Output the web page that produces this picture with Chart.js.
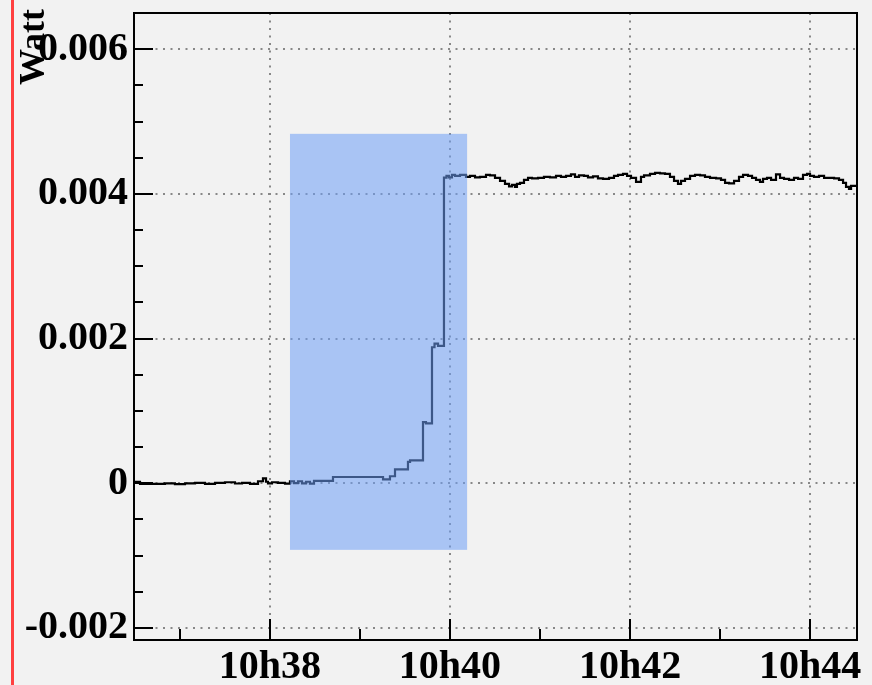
<!DOCTYPE html>
<html><head><meta charset="utf-8">
<script src="https://cdn.jsdelivr.net/npm/chart.js@4/dist/chart.umd.min.js"></script>
<style>html,body{margin:0;padding:0;background:#f2f2f2;overflow:hidden}canvas{display:block}</style>
</head><body><canvas id="c" width="872" height="685"></canvas>
<script>
// time in minutes after 10h00
const timeMinutes = [
  36.478, 36.556, 36.667, 36.833, 36.944, 37.056, 37.167, 37.278, 37.389, 37.500,
  37.611, 37.689, 37.778, 37.867, 37.922, 37.956, 37.978, 38.022, 38.089, 38.167,
  38.222, 38.267, 38.311, 38.356, 38.400, 38.444, 38.489, 38.700, 39.256, 39.333,
  39.389, 39.533, 39.556, 39.700, 39.733, 39.800, 39.828, 39.867, 39.933, 39.961,
  39.989, 40.022, 40.056, 40.111, 40.178, 40.222, 40.278, 40.333, 40.400, 40.444,
  40.500, 40.556, 40.611, 40.656, 40.689, 40.722, 40.744, 40.778, 40.822, 40.867,
  40.911, 40.978, 41.044, 41.111, 41.178, 41.233, 41.289, 41.344, 41.389, 41.433,
  41.489, 41.533, 41.589, 41.644, 41.700, 41.767, 41.822, 41.867, 41.922, 41.967,
  42.011, 42.067, 42.122, 42.156, 42.222, 42.278, 42.333, 42.389, 42.444, 42.489,
  42.533, 42.567, 42.611, 42.667, 42.722, 42.778, 42.833, 42.889, 42.956, 43.011,
  43.056, 43.100, 43.156, 43.211, 43.256, 43.311, 43.356, 43.400, 43.444, 43.478,
  43.522, 43.567, 43.622, 43.667, 43.711, 43.767, 43.822, 43.867, 43.922, 43.967,
  44.000, 44.044, 44.100, 44.156, 44.211, 44.267, 44.322, 44.367, 44.400, 44.433,
  44.456, 44.478, 44.522
];
const powerWatt = [
  0.000014, 0.000021, -0.000007, -0.000007, 0.000000, -0.000011, 0.000000, 0.000006, -0.000007, 0.000007,
  0.000014, -0.000003, 0.000007, -0.000007, 0.000028, 0.000069, 0.000021, 0.000000, 0.000014, 0.000007,
  -0.000004, 0.000028, 0.000003, 0.000028, 0.000000, 0.000021, -0.000004, 0.000032, 0.000087, 0.000055,
  0.000097, 0.000193, 0.000295, 0.000317, 0.000846, 0.000828, 0.001880, 0.001930, 0.001900, 0.004225,
  0.004248, 0.004228, 0.004262, 0.004248, 0.004262, 0.004234, 0.004248, 0.004228, 0.004234, 0.004262,
  0.004255, 0.004221, 0.004179, 0.004138, 0.004103, 0.004124, 0.004097, 0.004138, 0.004152, 0.004193,
  0.004221, 0.004214, 0.004221, 0.004234, 0.004228, 0.004248, 0.004234, 0.004248, 0.004269, 0.004234,
  0.004255, 0.004248, 0.004228, 0.004241, 0.004214, 0.004207, 0.004221, 0.004248, 0.004262, 0.004276,
  0.004248, 0.004221, 0.004166, 0.004234, 0.004255, 0.004276, 0.004290, 0.004283, 0.004276, 0.004234,
  0.004179, 0.004138, 0.004179, 0.004207, 0.004248, 0.004262, 0.004255, 0.004234, 0.004221, 0.004214,
  0.004193, 0.004152, 0.004145, 0.004179, 0.004234, 0.004262, 0.004248, 0.004221, 0.004193, 0.004166,
  0.004207, 0.004221, 0.004193, 0.004269, 0.004221, 0.004207, 0.004193, 0.004221, 0.004207, 0.004262,
  0.004276, 0.004248, 0.004234, 0.004248, 0.004221, 0.004221, 0.004214, 0.004193, 0.004152, 0.004097,
  0.004069, 0.004110, 0.004110
];
const xTickValues = [38, 40, 42, 44];
const xTickLabels = ['10h38', '10h40', '10h42', '10h44'];
const yTickValues = [-0.002, 0, 0.002, 0.004, 0.006];
const yTickLabels = ['-0.002', '0', '0.002', '0.004', '0.006'];
const xRange = [36.478, 44.522];
const yRange = [-0.002166, 0.0065];
const xMinorStep = 1;        // minutes
const yMinorStep = 0.0005;   // Watt
const boxTimes = [38.222, 40.19];
const boxWatts = [-0.00092, 0.00483];
const yAxisTitle = 'Watt';

const labelFont = {family: '"Liberation Serif", "Times New Roman", serif', size: 40, weight: 'bold'};

const bgPlugin = {
  id: 'bg',
  beforeDraw(chart) {
    const ctx = chart.ctx;
    ctx.save();
    ctx.fillStyle = '#f2f2f2';
    ctx.fillRect(0, 0, chart.width, chart.height);
    ctx.fillStyle = '#ff4040';
    ctx.fillRect(11, 0, 3, chart.height);
    ctx.restore();
  }
};

const boxPlugin = {
  id: 'box',
  afterDatasetsDraw(chart) {
    const {ctx, scales: {x, y}} = chart;
    const x0 = x.getPixelForValue(boxTimes[0]), x1 = x.getPixelForValue(boxTimes[1]);
    const y0 = y.getPixelForValue(boxWatts[1]), y1 = y.getPixelForValue(boxWatts[0]);
    ctx.save();
    ctx.fillStyle = 'rgba(110,158,246,0.55)';
    ctx.fillRect(x0, y0, x1 - x0, y1 - y0);
    ctx.restore();
  }
};

const framePlugin = {
  id: 'frame',
  afterDraw(chart) {
    const {ctx, chartArea: a, scales: {x, y}} = chart;
    ctx.save();
    ctx.strokeStyle = '#000';
    ctx.lineWidth = 2;
    ctx.strokeRect(a.left + 1, a.top, a.right - a.left - 1, a.bottom - a.top);
    ctx.beginPath();
    const kx0 = Math.ceil(xRange[0] / xMinorStep), kx1 = Math.floor(xRange[1] / xMinorStep);
    for (let k = kx0; k <= kx1; k++) {
      const v = k * xMinorStep;
      const px = Math.round(x.getPixelForValue(v));
      const major = xTickValues.some(t => Math.abs(t - v) < 1e-9);
      const len = major ? 21 : 11;
      ctx.moveTo(px, a.bottom);
      ctx.lineTo(px, a.bottom - len);
    }
    const ky0 = Math.ceil(yRange[0] / yMinorStep - 1e-9), ky1 = Math.floor(yRange[1] / yMinorStep + 1e-9);
    for (let k = ky0; k <= ky1; k++) {
      const v = k * yMinorStep;
      const py = Math.round(y.getPixelForValue(v));
      const major = yTickValues.some(t => Math.abs(t - v) < 1e-9);
      const len = major ? 20 : 10;
      ctx.moveTo(a.left, py);
      ctx.lineTo(a.left + len, py);
    }
    ctx.stroke();
    // axis title
    ctx.fillStyle = '#000';
    ctx.font = 'bold 36px "Liberation Serif", "Times New Roman", serif';
    ctx.translate(44, 9);
    ctx.rotate(-Math.PI / 2);
    ctx.textAlign = 'right';
    ctx.textBaseline = 'alphabetic';
    ctx.fillText(yAxisTitle, 0, 0);
    ctx.restore();
  }
};

new Chart(document.getElementById('c'), {
  type: 'line',
  data: {
    labels: timeMinutes,
    datasets: [{
      data: timeMinutes.map((t, i) => ({x: t, y: powerWatt[i]})),
      borderColor: '#000',
      borderWidth: 2.2,
      pointRadius: 0,
      stepped: 'after',
      fill: false
    }]
  },
  options: {
    responsive: false,
    animation: false,
    events: [],
    layout: {padding: {top: 13, right: 15, left: 0, bottom: 0}},
    plugins: {legend: {display: false}, tooltip: {enabled: false}, title: {display: false}},
    scales: {
      x: {
        type: 'linear',
        min: xRange[0], max: xRange[1],
        afterBuildTicks: s => { s.ticks = xTickValues.map(v => ({value: v})); },
        afterFit: s => { s.height = 45; s.paddingLeft = 0; s.paddingRight = 0; },
        ticks: {
          color: '#000', font: labelFont, padding: 4, maxRotation: 0, autoSkip: false,
          callback: v => { const i = xTickValues.indexOf(v); return i >= 0 ? xTickLabels[i] : ''; }
        },
        grid: {color: '#888', lineWidth: 2, drawTicks: false, drawOnChartArea: true},
        border: {display: false, dash: [2, 5.5]}
      },
      y: {
        type: 'linear',
        min: yRange[0], max: yRange[1],
        afterBuildTicks: s => { s.ticks = yTickValues.map(v => ({value: v})); },
        afterFit: s => { s.width = 133; s.paddingTop = 0; s.paddingBottom = 0; },
        ticks: {
          color: '#000', font: labelFont, padding: 5, autoSkip: false,
          callback: v => { const i = yTickValues.findIndex(t => Math.abs(t - v) < 1e-9); return i >= 0 ? yTickLabels[i] : ''; }
        },
        grid: {color: '#888', lineWidth: 2, drawTicks: false, drawOnChartArea: true},
        border: {display: false, dash: [2, 5.5]}
      }
    }
  },
  plugins: [bgPlugin, boxPlugin, framePlugin]
});
</script>
</body></html>
